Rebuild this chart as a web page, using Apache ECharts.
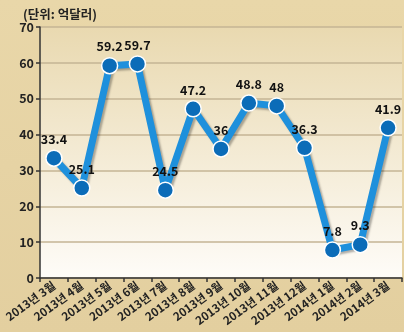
<!DOCTYPE html>
<html><head><meta charset="utf-8">
<script src="https://cdn.jsdelivr.net/npm/echarts@6/dist/echarts.min.js"></script>
<style>
html,body{margin:0;padding:0;background:#fff;width:408px;height:336px;overflow:hidden;}
#c{width:404px;height:332px;background:linear-gradient(180deg,#e9d7a9,#e3cf9f);}
</style></head>
<body><div id="c"></div>
<script>
const categories = ['2013년 3월','2013년 4월','2013년 5월','2013년 6월','2013년 7월','2013년 8월','2013년 9월','2013년 10월','2013년 11월','2013년 12월','2014년 1월','2014년 2월','2014년 3월'];
const values = [33.4, 25.1, 59.2, 59.7, 24.5, 47.2, 36, 48.8, 48, 36.3, 7.8, 9.3, 41.9];
const unitLabel = '(단위: 억달러)';

const chart = echarts.init(document.getElementById('c'), null, {renderer:'canvas'});
const font = '"Noto Sans CJK KR", "Noto Sans", sans-serif';
chart.setOption({
  animation:false,
  backgroundColor:'transparent',
  title:{text:unitLabel,left:18,top:3,textStyle:{fontSize:12.5,fontWeight:'bold',color:'#222',fontFamily:font}},
  grid:{left:40,right:2,top:27,bottom:54,show:true,borderWidth:0,
    backgroundColor:{type:'linear',x:0,y:0,x2:0,y2:1,colorStops:[{offset:0,color:'#e9d9b0'},{offset:1,color:'#fefcf8'}]}},
  xAxis:{type:'category',data:categories,boundaryGap:true,
    axisLine:{lineStyle:{color:'#333',width:1.5}},
    axisTick:{show:true,length:4,lineStyle:{color:'#333',width:1.5}},
    axisLabel:{rotate:36,fontSize:11.5,fontWeight:'bold',color:'#222',fontFamily:font,margin:6,interval:0}},
  yAxis:{type:'value',min:0,max:70,interval:10,
    axisLine:{show:true,lineStyle:{color:'#333',width:1.5}},
    axisTick:{show:true,length:4,lineStyle:{color:'#333',width:1.5}},
    splitLine:{lineStyle:{color:'#c4b595',width:1.5}},
    axisLabel:{fontSize:12.5,fontWeight:'bold',color:'#222',fontFamily:font,margin:6}},
  series:[{type:'line',data:values,
    lineStyle:{color:'#1e90dc',width:7,shadowColor:'rgba(0,0,0,0.3)',shadowBlur:2,shadowOffsetX:2,shadowOffsetY:2},
    symbol:'circle',symbolSize:16,
    itemStyle:{color:'#0b6cb8',borderColor:'#fff',borderWidth:1.5},
    label:{show:true,position:'top',distance:4,fontSize:12.5,fontWeight:'bold',color:'#111',fontFamily:font}
  }]
});
</script></body></html>
